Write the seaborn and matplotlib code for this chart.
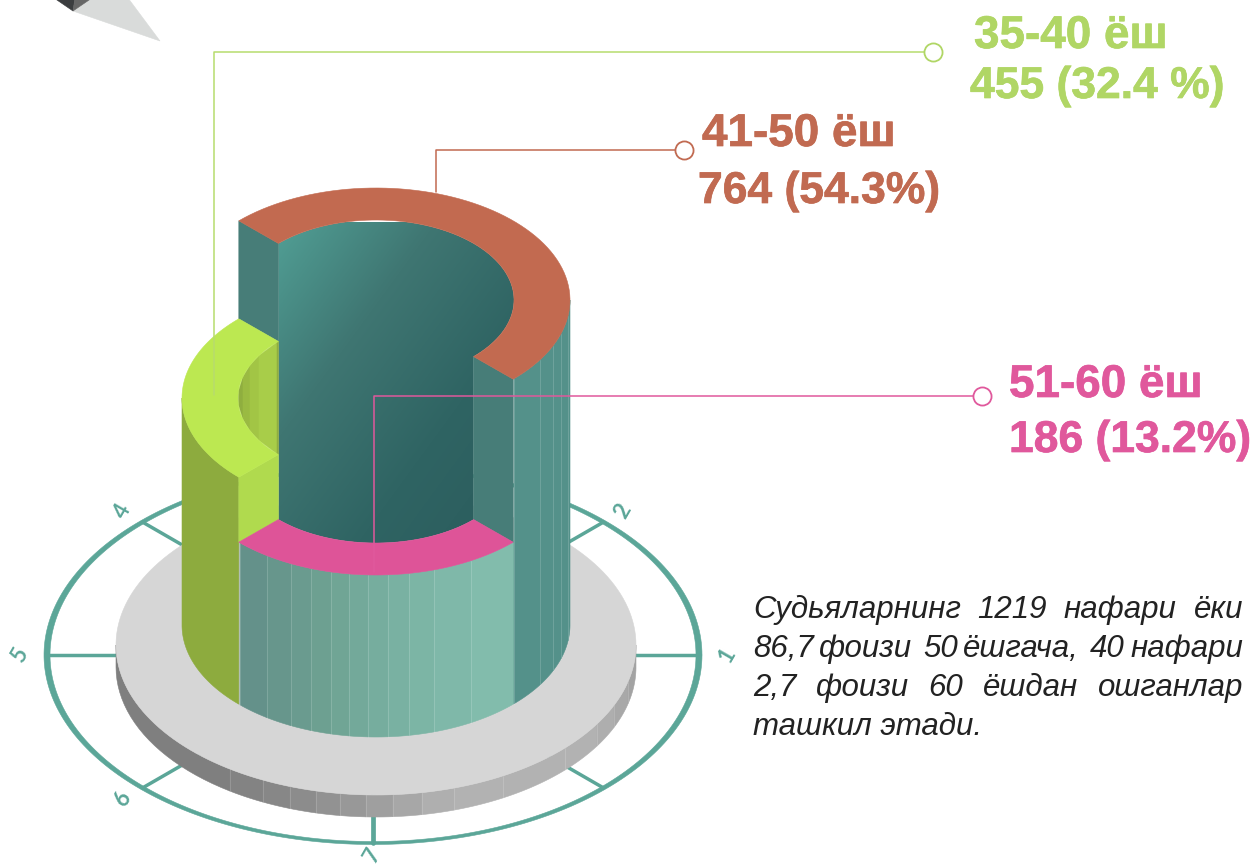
import numpy as np
import matplotlib
matplotlib.use("Agg")
import matplotlib.pyplot as plt
import matplotlib.patheffects as pe
from matplotlib.patches import Polygon
import seaborn as sns

# ---------------------------------------------------
# DATA
# ---------------------------------------------------
AGE_GROUPS = ["35-40 ёш", "41-50 ёш", "51-60 ёш"]
COUNTS = [455, 764, 186]
SHARES = ["32.4 %", "54.3%", "13.2%"]
DIAL_LABELS = ["1", "2", "3", "4", "5", "6", "7", ""]
BODY_LINES = [
    "Судьяларнинг 1219 нафари ёки",
    "86,7 фоизи  50 ёшгача,  40 нафари",
    "2,7 фоизи 60 ёшдан ошганлар",
]
BODY_LAST = "ташкил этади."

# ---------------------------------------------------
# LAYOUT (pixels of the 1258x866 picture)
# ---------------------------------------------------
W, H = 1258, 866
CX = 376
RX, RY = 194, 112
IN_RX, IN_RY = 138, 80
Y_BOTTOM = 625
Y_GREEN, Y_RED, Y_PINK = 398, 300, 463
DISK_RX, DISK_RY, DISK_Y, DISK_H = 260, 150, 645, 22
RING_X, RING_Y, RING_RX, RING_RY = 373, 655, 326, 188

TEAL = "#5ba698"
GREEN_TXT, RED_TXT, PINK_TXT = "#b0d665", "#c16a51", "#e0589c"
FRONT_EDGES = [240, 267, 291, 311, 331, 349, 368, 388, 409, 434, 471, 514]
RIGHT_EDGES = [514, 540, 553, 561, 568, 570]
DISK_EDGES = [116, 230, 263, 290, 316, 340, 366, 393, 422, 454, 503, 565, 597, 614, 628, 636]
CURVE_EDGES = [238.5, 243, 250, 259, 277, 278.5]
CURVE_COLORS = ["#8fae3f", "#9aba42", "#a2c545", "#a8cd49", "#8fae3f"]

sns.set_theme(style="white")
plt.rcParams["font.family"] = ["Liberation Sans", "DejaVu Sans"]

fig = plt.figure(figsize=(W / 100, H / 100), dpi=100)
ax = fig.add_axes([0, 0, 1, 1])


def arc(cy, rx, ry, t0, t1, cx=CX, n=80):
    t = np.radians(np.linspace(t0, t1, n))
    return np.column_stack([cx + rx * np.cos(t), cy - ry * np.sin(t)])


def poly(points, color, z):
    patch = Polygon(points, closed=True, facecolor=color, edgecolor=color, linewidth=0.4, zorder=z)
    ax.add_patch(patch)
    return patch


def sector(cy, t0, t1, color, z):
    poly(np.vstack([arc(cy, RX, RY, t0, t1), arc(cy, IN_RX, IN_RY, t1, t0)]), color, z)


def x_to_angle(x, rx):
    return 360 - np.degrees(np.arccos((x - CX) / rx))


def wall(x0, x1, y_top, y_bot, rx, ry, color, z):
    a0, a1 = x_to_angle(x0, rx), x_to_angle(x1, rx)
    poly(np.vstack([arc(y_top, rx, ry, a0, a1, n=24), arc(y_bot, rx, ry, a1, a0, n=24)]), color, z)
    if x0 > CX - rx:
        ax.plot([x0, x0], [y_top - ry * np.sin(np.radians(a0)), y_bot - ry * np.sin(np.radians(a0))],
                color="white", alpha=0.16, lw=0.7, zorder=z + 0.1)


def leader(xs, ys, color):
    sns.lineplot(x=xs, y=ys, sort=False, estimator=None, color=color, linewidth=1.1, ax=ax, legend=False, zorder=12)


def gradient_fill(points, cmap, box, z):
    x0, x1, y0, y1 = box
    xx, yy = np.meshgrid(np.linspace(0, 1, 200), np.linspace(0, 1, 200))
    img = ax.imshow(0.5 * xx + 0.5 * yy, cmap=cmap, extent=(x0, x1, y1, y0), origin="upper",
                    aspect="auto", zorder=z, interpolation="bilinear")
    clip = Polygon(points, closed=True, transform=ax.transData, facecolor="none", edgecolor="none")
    ax.add_patch(clip)
    img.set_clip_path(clip)


def justified(line, y, x_left, x_right, **kw):
    # each word is placed on its own, the spaces share what is left of the width
    renderer = fig.canvas.get_renderer()
    words, gaps, count = [], [], 0
    for part in line.split(" "):
        if part:
            if words:
                gaps.append(count)
            words.append(part)
            count = 1
        else:
            count += 1
    items = [ax.text(x_left, y, w, ha="left", va="baseline", **kw) for w in words]
    widths = [t.get_window_extent(renderer).width for t in items]
    unit = (x_right - x_left - sum(widths)) / sum(gaps)
    x = x_left
    for i, t in enumerate(items):
        t.set_x(x)
        if i < len(gaps):
            x += widths[i] + gaps[i] * unit


# decoration in the top left corner
poly([(73, 11), (92, -2), (128, -2), (160, 41)], "#d9dbda", 1)
poly([(54, -2), (73, 11), (75, -2)], "#3b3d3f", 2)
poly([(75, -2), (73, 11), (92, -2)], "#666666", 2)

# dial: the ring is wider at the sides than at the front, as a flat ring seen at an angle
poly(np.vstack([arc(RING_Y, RING_RX + 3, RING_RY + 1.5, 0, 360, cx=RING_X, n=300),
                arc(RING_Y, RING_RX - 3, RING_RY - 1.5, 360, 0, cx=RING_X, n=300)]), TEAL, 1)
for k, label in enumerate(DIAL_LABELS):
    a = np.radians(45 * k)
    ca, sa = np.cos(a), np.sin(a)
    width = 3.4 if k in (2, 6) else 2.5
    sns.lineplot(x=[RING_X + RING_RX * ca, RING_X], y=[RING_Y - RING_RY * sa, RING_Y],
                 sort=False, estimator=None, color=TEAL, linewidth=width, ax=ax, legend=False, zorder=1)
    if label:
        # the lowest digit is pulled up a little so that it stays inside the picture
        ly = min(RING_Y - 1.085 * RING_RY * sa, 855)
        ax.text(RING_X + 1.085 * RING_RX * ca, ly, label, color=TEAL, fontsize=16,
                fontweight="bold", family="Lato", rotation=60, ha="center", va="center", zorder=1)

# base disk
disk_cols = sns.blend_palette(["#7f7f7f", "#8b8b8b", "#9c9c9c", "#b2b2b2", "#b2b2b2", "#a3a3a3"], len(DISK_EDGES) - 1)
for i in range(len(DISK_EDGES) - 1):
    wall(DISK_EDGES[i], DISK_EDGES[i + 1], DISK_Y, DISK_Y + DISK_H, DISK_RX, DISK_RY, disk_cols[i], 2)
poly(arc(DISK_Y, DISK_RX, DISK_RY, 0, 360, n=200), "#d6d6d6", 3)

# outer walls
front_cols = sns.blend_palette(["#64918a", "#6ea292", "#78b0a1", "#82bcac"], len(FRONT_EDGES) - 1)
for i in range(len(FRONT_EDGES) - 1):
    wall(FRONT_EDGES[i], FRONT_EDGES[i + 1], Y_PINK, Y_BOTTOM, RX, RY, front_cols[i], 4)
for i in range(len(RIGHT_EDGES) - 1):
    wall(RIGHT_EDGES[i], RIGHT_EDGES[i + 1], Y_RED, Y_BOTTOM, RX, RY, "#54918a", 4)
poly(np.vstack([arc(Y_GREEN, RX, RY, 180, 225), arc(Y_BOTTOM, RX, RY, 225, 180)]), "#8dab3e", 4)

# inner walls
back = np.vstack([arc(Y_RED, IN_RX, IN_RY, 135, -45), [(CX + IN_RX * np.cos(np.radians(45)), Y_PINK + IN_RY * np.sin(np.radians(45)))],
                  arc(Y_PINK, IN_RX, IN_RY, 315, 225)])
cmap = sns.blend_palette(["#519f95", "#3f7672", "#2f6463", "#2b5c5d"], as_cmap=True)
gradient_fill(back, cmap, (278, 514, 222, 545), 5)

ca = np.cos(np.radians(45))
sa = np.sin(np.radians(45))
out_x, out_dy = RX * ca, RY * sa
in_x, in_dy = IN_RX * ca, IN_RY * sa
WALL = "#477d78"
# left and right cut faces of the red block
poly([(CX - out_x, Y_RED - out_dy), (CX - in_x, Y_RED - in_dy), (CX - in_x, Y_GREEN - in_dy), (CX - out_x, Y_GREEN - out_dy)], WALL, 6)
poly([(CX + in_x, Y_RED + in_dy), (CX + out_x, Y_RED + out_dy), (CX + out_x, Y_PINK + out_dy), (CX + in_x, Y_PINK + in_dy)], WALL, 6)
# green block, front cut face and the inside of the curve
poly([(CX - out_x, Y_GREEN + out_dy), (CX - in_x, Y_GREEN + in_dy), (CX - in_x, Y_PINK + in_dy), (CX - out_x, Y_PINK + out_dy)], "#b0da4e", 6)
for i in range(len(CURVE_COLORS)):
    x0, x1 = CURVE_EDGES[i], CURVE_EDGES[i + 1]
    d0 = IN_RY * np.sqrt(max(0, 1 - ((x0 - CX) / IN_RX) ** 2))
    d1 = IN_RY * np.sqrt(max(0, 1 - ((x1 - CX) / IN_RX) ** 2))
    poly([(x0, Y_GREEN - d0), (x1, Y_GREEN - d1), (x1, Y_GREEN + d1), (x0, Y_GREEN + d0)], CURVE_COLORS[i], 6)

# top faces
sector(Y_GREEN, 135, 225, "#bce851", 7)
sector(Y_RED, -45, 135, "#c26a50", 7)
sector(Y_PINK, 225, 315, "#de5498", 7)

# leader lines and labels
leader([933, 214, 214], [52, 52, 395], "#b7dc6d")
leader([684, 436, 436], [150, 150, 192], RED_TXT)
leader([982, 374, 374], [396, 396, 572], PINK_TXT)
markers_x = [933, 684, 982]
markers_y = [52, 150, 396]
for mx, my, c in zip(markers_x, markers_y, [GREEN_TXT, RED_TXT, PINK_TXT]):
    sns.scatterplot(x=[mx], y=[my], s=170, color="white", edgecolor=c, linewidth=1.3, ax=ax, legend=False, zorder=13)

title_pos = [(974, 48), (702, 146), (1009, 397)]
value_pos = [(970, 98), (698, 203), (1009, 452)]
for i, c in enumerate([GREEN_TXT, RED_TXT, PINK_TXT]):
    heavy = [pe.withStroke(linewidth=0.5, foreground=c)]
    ax.text(*title_pos[i], AGE_GROUPS[i], color=c, fontsize=33, fontweight="bold", ha="left", va="baseline", path_effects=heavy)
    ax.text(*value_pos[i], f"{COUNTS[i]} ({SHARES[i]})", color=c, fontsize=32, fontweight="bold", ha="left", va="baseline", path_effects=heavy)

# commentary
body_kw = dict(color="#222222", fontsize=22.5, fontstyle="italic")
for i, line in enumerate(BODY_LINES):
    justified(line, 618 + i * 39, 753, 1243, **body_kw)
ax.text(753, 735, BODY_LAST, ha="left", va="baseline", **body_kw)

ax.set_xlim(0, W)
ax.set_ylim(H, 0)
ax.axis("off")
fig.savefig("out.png", dpi=100)
